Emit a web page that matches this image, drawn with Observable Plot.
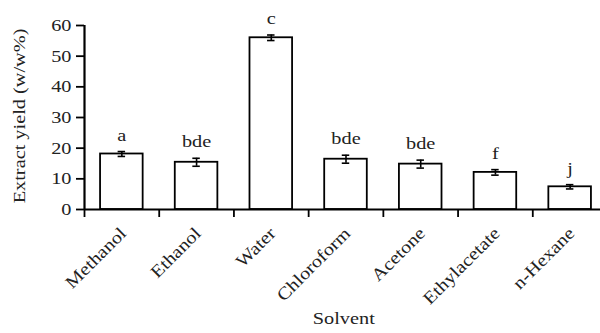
<!DOCTYPE html>
<html>
<head>
<meta charset="utf-8">
<script src="https://cdn.jsdelivr.net/npm/d3@7"></script>
<script src="https://cdn.jsdelivr.net/npm/@observablehq/plot@0.6"></script>
<style>
  html, body { margin: 0; padding: 0; background: #fff; }
  svg { display: block; }
</style>
</head>
<body>
<div id="chart"></div>
<script>
const solvents = ["Methanol", "Ethanol", "Water", "Chloroform", "Acetone", "Ethylacetate", "n-Hexane"];
const yields = [18.1, 15.4, 56.0, 16.4, 14.8, 12.1, 7.4];
const errors = [0.8, 1.3, 0.9, 1.3, 1.3, 0.9, 0.7];
const letters = ["a", "bde", "c", "bde", "bde", "f", "j"];
const yTicks = [0, 10, 20, 30, 40, 50, 60];

const data = solvents.map((s, i) => ({
  solvent: s, i, value: yields[i], err: errors[i], letter: letters[i]
}));
const boundaries = d3.range(solvents.length + 1);

const font = "Liberation Serif, Times New Roman, serif";
const ink = "#222";

const chart = Plot.plot({
  width: 600,
  height: 333,
  marginTop: 25,
  marginBottom: 124,
  marginLeft: 84,
  marginRight: -7,
  style: { fontFamily: font, fontSize: "17.5px", color: ink, background: "#fff", overflow: "visible" },
  x: { domain: [0, solvents.length], axis: null },
  y: { domain: [0, 60], axis: null },
  marks: [
    Plot.rectY(data, {
      x1: d => d.i + 0.215, x2: d => d.i + 0.785, y1: 0, y2: "value",
      fill: "white", stroke: "black", strokeWidth: 1.8
    }),
    Plot.ruleX(data, {
      x: d => d.i + 0.5, y1: d => d.value - d.err, y2: d => d.value + d.err,
      stroke: "black", strokeWidth: 1.6
    }),
    Plot.ruleY(data, {
      y: d => d.value + d.err, x1: d => d.i + 0.45, x2: d => d.i + 0.55,
      stroke: "black", strokeWidth: 1.6
    }),
    Plot.ruleY(data, {
      y: d => d.value - d.err, x1: d => d.i + 0.45, x2: d => d.i + 0.55,
      stroke: "black", strokeWidth: 1.6
    }),
    Plot.text(data, {
      x: d => d.i + 0.5, y: d => d.value + d.err, text: "letter",
      lineAnchor: "bottom", dy: -11, fontSize: 17.5, fill: ink
    }),
    Plot.axisX({
      ticks: boundaries, tickFormat: () => "", tickSize: 8, anchor: "bottom",
      stroke: "black", strokeWidth: 1.8
    }),
    Plot.axisY({
      ticks: yTicks, tickSize: 8, tickPadding: 5, anchor: "left", label: null,
      fontSize: 17.5, stroke: "black", strokeWidth: 1.8, fill: ink
    }),
    Plot.ruleY([0], { x1: 0, x2: solvents.length, stroke: "black", strokeWidth: 2.2 }),
    Plot.ruleX([0], { y1: 0, y2: 60, stroke: "black", strokeWidth: 2.2 }),
    Plot.text(data, {
      x: d => d.i + 0.52, y: 0, text: "solvent", rotate: -45,
      textAnchor: "end", lineAnchor: "middle", dx: 0, dy: 21, fontSize: 17.5, fill: ink
    }),
    Plot.text(["Solvent"], {
      x: 3.47, y: 0, text: d => d, dy: 109, fontSize: 17.5, fill: ink
    }),
    Plot.text(["Extract yield (w/w%)"], {
      x: 0, y: 30.5, text: d => d, rotate: -90, dx: -65, fontSize: 17.5, fill: ink
    })
  ]
});

document.getElementById("chart").appendChild(chart);

// Widen the glyphs slightly, as in the reference typeface.
chart.querySelectorAll("text").forEach(t => {
  const len = t.getComputedTextLength();
  if (len > 0) {
    t.setAttribute("textLength", (len * 1.16).toFixed(2));
    t.setAttribute("lengthAdjust", "spacingAndGlyphs");
  }
});
</script>
</body>
</html>
